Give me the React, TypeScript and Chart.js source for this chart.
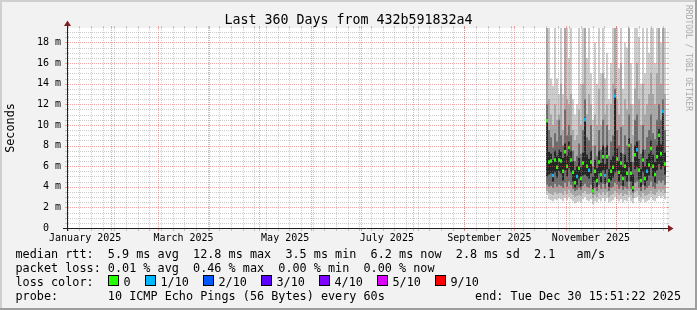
import React, { useEffect, useRef } from 'react';
import { Chart, registerables } from 'chart.js';

Chart.register(...registerables);

const FONT = '"DejaVu Sans Mono", monospace';

// ---- data (values in milliseconds) ----
// x positions are day-of-year 2025 (Jan 1 = 0); samples are evenly spaced
const sampleStartDay = 292.6;
const sampleStepDays = 1.2;

const medianMs = [10.4, 6.4, 6.5, 5.1, 6.6, 5.9, 6.6, 6.5, 5.5, 7.4, 6.0, 7.8, 6.6, 5.4, 4.4, 5.0, 5.8, 4.8, 6.3, 10.5, 6.0, 5.6, 6.4, 3.6, 5.5, 4.6, 6.4, 5.2, 6.9, 5.1, 6.9, 4.6, 5.5, 5.9, 12.8, 6.7, 5.4, 6.3, 4.8, 6.0, 5.3, 8.0, 5.3, 3.9, 7.1, 7.6, 5.6, 4.6, 6.6, 4.8, 5.5, 6.1, 7.7, 6.0, 5.2, 6.9, 9.0, 7.2, 11.3, 6.2];
const lossCount = [0, 0, 0, 1, 0, 0, 0, 0, 0, 0, 0, 0, 0, 0, 0, 1, 0, 0, 0, 1, 0, 1, 0, 0, 0, 0, 0, 0, 0, 1, 0, 0, 0, 0, 1, 0, 0, 0, 0, 0, 0, 0, 0, 0, 0, 1, 0, 0, 0, 0, 1, 0, 0, 0, 0, 0, 0, 0, 1, 0];

const smokeOuterLow = [3.2, 2.8, 2.7, 2.6, 2.8, 2.7, 2.9, 2.8, 2.6, 2.9, 2.7, 3.0, 2.8, 2.6, 2.4, 2.5, 2.6, 2.5, 2.8, 3.0, 2.7, 2.6, 2.8, 2.3, 2.6, 2.5, 2.8, 2.6, 2.9, 2.6, 2.9, 2.5, 2.6, 2.7, 3.0, 2.8, 2.6, 2.8, 2.5, 2.7, 2.6, 3.0, 2.6, 2.4, 2.9, 3.0, 2.6, 2.5, 2.8, 2.5, 2.6, 2.7, 3.0, 2.7, 2.6, 2.9, 3.1, 2.9, 3.1, 2.8];
const smokeOuterHigh = [20, 20, 14.5, 13.8, 20, 14.5, 13.0, 20, 13.0, 20, 20, 16.5, 20, 12.5, 11.0, 12.0, 20, 14.0, 20, 20, 16.5, 20, 15.0, 10.5, 18.0, 14.0, 20, 15.0, 20, 14.5, 17.0, 12.5, 16.0, 20, 20, 20, 15.5, 20, 13.5, 18.0, 17.5, 20, 16.0, 12.0, 20, 20, 18.5, 14.0, 20, 15.0, 20, 17.0, 20, 20, 16.0, 20, 20, 18.0, 20, 20];
const smokeMidLow = [3.6, 3.4, 3.3, 3.2, 3.5, 3.3, 3.4, 3.4, 3.2, 3.6, 3.3, 3.7, 3.4, 3.2, 3.0, 3.1, 3.2, 3.1, 3.4, 3.6, 3.3, 3.3, 3.4, 2.9, 3.2, 3.0, 3.4, 3.2, 3.5, 3.2, 3.5, 3.0, 3.2, 3.3, 3.6, 3.4, 3.2, 3.4, 3.1, 3.3, 3.2, 3.6, 3.2, 2.9, 3.5, 3.6, 3.2, 3.0, 3.4, 3.1, 3.2, 3.3, 3.6, 3.3, 3.2, 3.5, 3.7, 3.5, 3.7, 3.4];
const smokeMidHigh = [20, 12.5, 11.0, 10.0, 12.0, 10.5, 11.0, 14.0, 9.5, 20, 12.5, 12.0, 13.0, 9.5, 8.5, 9.0, 11.5, 10.0, 14.0, 20, 11.0, 13.0, 12.0, 8.0, 11.0, 10.0, 13.5, 10.0, 15.0, 11.0, 12.0, 9.5, 12.0, 14.0, 20, 12.5, 11.0, 16.0, 10.0, 12.5, 11.5, 20, 12.0, 9.0, 13.5, 16.0, 12.5, 10.0, 14.0, 11.0, 12.0, 13.0, 15.0, 13.0, 12.0, 15.0, 20, 14.0, 20, 13.0];
const smokeDarkLow = [4.2, 4.0, 4.1, 3.9, 4.3, 4.0, 4.2, 4.1, 3.9, 4.4, 4.0, 4.5, 4.2, 3.8, 3.6, 3.7, 3.9, 3.7, 4.1, 4.3, 4.0, 3.9, 4.2, 3.3, 3.9, 3.6, 4.2, 3.8, 4.3, 3.8, 4.4, 3.6, 3.9, 4.0, 4.4, 4.2, 3.8, 4.1, 3.7, 4.0, 3.8, 4.5, 3.8, 3.4, 4.4, 4.5, 3.9, 3.6, 4.2, 3.7, 3.9, 4.1, 4.5, 4.0, 3.8, 4.3, 4.6, 4.4, 4.6, 4.2];
const smokeDarkHigh = [12.0, 9.5, 8.8, 7.8, 9.2, 8.4, 10.5, 9.0, 8.0, 11.5, 9.0, 10.0, 9.0, 7.5, 6.5, 7.0, 8.2, 7.2, 9.5, 12.5, 8.8, 8.5, 10.0, 6.0, 8.0, 7.0, 9.5, 7.6, 10.5, 7.8, 10.0, 7.0, 8.4, 9.0, 13.5, 9.5, 8.0, 9.8, 7.2, 9.0, 8.0, 11.0, 8.2, 6.4, 10.5, 11.0, 8.5, 7.2, 10.0, 7.6, 8.8, 9.5, 11.0, 9.2, 8.6, 10.5, 12.0, 10.5, 12.5, 9.5];
const smokeCoreLow = [5.0, 5.2, 5.3, 4.5, 5.4, 4.9, 5.5, 5.3, 4.6, 5.6, 5.0, 5.8, 5.4, 4.5, 3.9, 4.2, 4.8, 4.0, 5.1, 5.2, 5.0, 4.8, 5.3, 3.4, 4.6, 4.0, 5.3, 4.4, 5.6, 4.3, 5.7, 4.0, 4.6, 4.9, 5.4, 5.5, 4.5, 5.2, 4.1, 5.0, 4.5, 5.9, 4.5, 3.6, 5.7, 5.9, 4.7, 4.0, 5.4, 4.1, 4.6, 5.1, 5.9, 5.0, 4.4, 5.6, 6.2, 5.7, 6.0, 5.2];
const smokeCoreHigh = [10.6, 7.4, 7.2, 6.6, 7.5, 7.0, 7.6, 7.4, 6.8, 8.2, 7.0, 8.4, 7.5, 6.5, 5.6, 6.0, 6.8, 5.9, 7.3, 10.7, 7.1, 6.7, 7.5, 5.0, 6.6, 5.8, 7.5, 6.3, 8.0, 6.2, 8.0, 5.7, 6.6, 7.0, 13.0, 7.7, 6.5, 7.3, 5.9, 7.1, 6.4, 8.7, 6.4, 5.2, 8.0, 8.4, 6.7, 5.7, 7.6, 6.0, 6.7, 7.2, 8.5, 7.1, 6.4, 8.0, 9.6, 8.1, 11.5, 7.3];

// ---- axes ----
const xMinDay = 4.6;
const xMaxDay = 364.6;
const monthStartDays = [31, 59, 90, 120, 151, 181, 212, 243, 273, 304, 334];
const monthLabels = ['January 2025', 'March 2025', 'May 2025', 'July 2025', 'September 2025', 'November 2025'];
const monthLabelDays = [15.5, 74.5, 135.5, 196.5, 258, 319];
const firstMondayDay = 5;

const yMax = 19.4;
const yMajorTicks = [0, 2, 4, 6, 8, 10, 12, 14, 16, 18];
const yTickLabels = ['0  ', '2 m', '4 m', '6 m', '8 m', '10 m', '12 m', '14 m', '16 m', '18 m'];
const yMinorStep = 0.5;

// ---- texts ----
const titleText = 'Last 360 Days from 432b591832a4';
const yAxisTitle = 'Seconds';
const legendLine1 = 'median rtt:  5.9 ms avg  12.8 ms max  3.5 ms min  6.2 ms now  2.8 ms sd  2.1   am/s';
const legendLine2 = 'packet loss: 0.01 % avg  0.46 % max  0.00 % min  0.00 % now';
const legendLine3 = 'loss color:';
const legendLine4 = 'probe:       10 ICMP Echo Pings (56 Bytes) every 60s';
const endText = 'end: Tue Dec 30 15:51:22 2025';
const watermark = 'RRDTOOL / TOBI OETIKER';
const lossLabels = ['0', '1/10', '2/10', '3/10', '4/10', '5/10', '9/10'];
const lossColors = ['#26ff00', '#00b8ff', '#0059ff', '#5e00ff', '#7e00ff', '#dd00ff', '#ff0000'];

const GRID_MINOR = 'rgba(143,143,143,0.45)';
const GRID_MAJOR = 'rgba(222,79,79,0.5)';
const MEDIAN_HALF = 0.17;

const xs = medianMs.map((_, i) => sampleStartDay + i * sampleStepDays);
const band = (lo: number[], hi: number[]) => xs.map((x, i) => ({ x, y: [lo[i], hi[i]] }));

const weekDays: number[] = [];
for (let d = firstMondayDay; d < xMaxDay; d += 7) weekDays.push(d);

const yMinorVals: number[] = [];
for (let v = yMinorStep; v <= yMax; v += yMinorStep) if (!yMajorTicks.includes(v)) yMinorVals.push(v);

const xTickObjs = monthLabelDays.map((v, i) => ({ value: v, lbl: monthLabels[i] }));

const gridPlugin = {
  id: 'rrdGrid',
  afterDatasetsDraw(chart: any) {
    const { ctx, chartArea: a, scales } = chart;
    const xs_ = scales.x;
    const ys_ = scales.y;
    const L = Math.round(a.left);
    const R = Math.round(a.right);
    const T = Math.round(a.top);
    const B = Math.round(a.bottom);
    ctx.save();
    const hline = (v: number, color: string) => {
      const py = Math.round(ys_.getPixelForValue(v));
      if (py <= T - 1 || py >= B) return;
      ctx.fillStyle = color;
      for (let px = L + 1; px < R; px += 2) ctx.fillRect(px, py, 1, 1);
      ctx.fillRect(L - 2, py, 2, 1);
      ctx.fillRect(R, py, 2, 1);
    };
    const vline = (d: number, color: string) => {
      const px = Math.round(xs_.getPixelForValue(d));
      if (px <= L || px >= R) return;
      ctx.fillStyle = color;
      for (let py = T; py < B; py += 2) ctx.fillRect(px, py, 1, 1);
      ctx.fillRect(px, B + 1, 1, 2);
      ctx.fillRect(px, T - 2, 1, 2);
    };
    yMinorVals.forEach((v) => hline(v, GRID_MINOR));
    weekDays.forEach((d) => vline(d, GRID_MINOR));
    yMajorTicks.forEach((v) => hline(v, GRID_MAJOR));
    monthStartDays.forEach((d) => vline(d, GRID_MAJOR));
    ctx.restore();
  },
};

const framePlugin = {
  id: 'rrdFrame',
  beforeDraw(chart: any) {
    const { ctx, chartArea: a, width, height } = chart;
    ctx.save();
    ctx.fillStyle = '#f2f2f2';
    ctx.fillRect(0, 0, width, height);
    ctx.fillStyle = '#cfcfcf';
    ctx.fillRect(0, 0, width, 2);
    ctx.fillRect(0, 0, 2, height);
    ctx.fillStyle = '#9e9e9e';
    ctx.fillRect(0, height - 2, width, 2);
    ctx.fillRect(width - 2, 0, 2, height);
    ctx.fillStyle = '#ffffff';
    ctx.fillRect(a.left, a.top, a.right - a.left, a.bottom - a.top);
    ctx.restore();
  },
  afterDraw(chart: any) {
    const { ctx, chartArea: a } = chart;
    ctx.save();
    // axes
    ctx.strokeStyle = '#1f1f1f';
    ctx.lineWidth = 1;
    ctx.beginPath();
    ctx.moveTo(a.left - 4, a.bottom + 0.5);
    ctx.lineTo(a.right + 3, a.bottom + 0.5);
    ctx.moveTo(a.left + 0.5, a.bottom + 3);
    ctx.lineTo(a.left + 0.5, a.top - 3);
    ctx.stroke();
    ctx.fillStyle = '#801f1f';
    ctx.beginPath();
    ctx.moveTo(a.right + 1, a.bottom - 3);
    ctx.lineTo(a.right + 6.5, a.bottom + 0.5);
    ctx.lineTo(a.right + 1, a.bottom + 4);
    ctx.closePath();
    ctx.fill();
    ctx.beginPath();
    ctx.moveTo(a.left - 3, a.top - 2);
    ctx.lineTo(a.left + 0.5, a.top - 7.5);
    ctx.lineTo(a.left + 4, a.top - 2);
    ctx.closePath();
    ctx.fill();

    // title
    ctx.fillStyle = '#000';
    ctx.font = `13.3px ${FONT}`;
    ctx.textAlign = 'center';
    ctx.textBaseline = 'alphabetic';
    ctx.fillText(titleText, 348.5, 24);

    // y axis title
    ctx.save();
    ctx.font = `11.8px ${FONT}`;
    ctx.translate(13.5, (a.top + a.bottom) / 2);
    ctx.rotate(-Math.PI / 2);
    ctx.textAlign = 'center';
    ctx.fillText(yAxisTitle, 0, 0);
    ctx.restore();

    // watermark
    ctx.save();
    ctx.font = `8px ${FONT}`;
    ctx.fillStyle = '#a9a9a9';
    ctx.translate(688.5, 5);
    ctx.rotate(Math.PI / 2);
    ctx.textAlign = 'left';
    ctx.textBaseline = 'middle';
    ctx.fillText(watermark, 0, 0);
    ctx.restore();

    // legend
    ctx.font = `11.8px ${FONT}`;
    ctx.textAlign = 'left';
    ctx.textBaseline = 'alphabetic';
    ctx.fillStyle = '#000';
    const lx = 15.5;
    ctx.fillText(legendLine1, lx, 258);
    ctx.fillText(legendLine2, lx, 272);
    ctx.fillText(legendLine3, lx, 286);
    ctx.fillText(legendLine4, lx, 300);
    const boxX = [108.5, 145.5, 203.5, 261.5, 319.5, 377.5, 435.5];
    lossLabels.forEach((lab, i) => {
      ctx.fillStyle = lossColors[i];
      ctx.fillRect(boxX[i], 275.5, 10, 10);
      ctx.strokeStyle = '#000';
      ctx.strokeRect(boxX[i], 275.5, 10, 10);
      ctx.fillStyle = '#000';
      ctx.fillText(lab, boxX[i] + 15, 286);
    });
    ctx.textAlign = 'right';
    ctx.fillText(endText, 681, 300);
    ctx.restore();
  },
};

export default function App() {
  const ref = useRef<HTMLCanvasElement>(null);
  useEffect(() => {
    const barCommon = {
      grouped: false,
      barThickness: 2,
      borderWidth: 0,
      inflateAmount: 0,
    };
    const chart = new Chart(ref.current as HTMLCanvasElement, {
      type: 'bar',
      data: {
        datasets: [
          { ...barCommon, label: 'smoke outer', data: band(smokeOuterLow, smokeOuterHigh), backgroundColor: '#cccccc', order: 5 },
          { ...barCommon, label: 'smoke mid', data: band(smokeMidLow, smokeMidHigh), backgroundColor: '#a8a8a8', order: 4 },
          { ...barCommon, label: 'smoke dark', data: band(smokeDarkLow, smokeDarkHigh), backgroundColor: '#6c6c6c', order: 3 },
          { ...barCommon, label: 'smoke core', data: band(smokeCoreLow, smokeCoreHigh), backgroundColor: '#262626', order: 2 },
          {
            ...barCommon,
            label: 'median',
            data: xs.map((x, i) => ({ x, y: [medianMs[i] - MEDIAN_HALF, medianMs[i] + MEDIAN_HALF] })),
            backgroundColor: lossCount.map((l) => lossColors[l]),
            order: 1,
          },
        ] as any,
      },
      options: {
        animation: false,
        responsive: false,
        devicePixelRatio: 1,
        events: [],
        layout: { padding: { top: 28, right: 30, left: 0, bottom: 0 } },
        plugins: { legend: { display: false }, tooltip: { enabled: false } },
        scales: {
          x: {
            type: 'linear',
            min: xMinDay,
            max: xMaxDay,
            offset: false,
            afterBuildTicks: (s: any) => {
              s.ticks = xTickObjs.map((t) => ({ ...t }));
            },
            afterFit: (s: any) => {
              s.height = 82;
            },
            grid: { display: false, drawTicks: false, offset: false },
            border: { display: false },
            ticks: {
              autoSkip: false,
              maxRotation: 0,
              minRotation: 0,
              padding: 4,
              color: '#000',
              font: { family: FONT, size: 10 },
              callback: (_v: any, i: number, ticks: any[]) => (ticks[i] && ticks[i].lbl) || '',
            },
          },
          y: {
            type: 'linear',
            min: 0,
            max: yMax,
            afterBuildTicks: (s: any) => {
              s.ticks = yMajorTicks.map((v) => ({ value: v }));
            },
            afterFit: (s: any) => {
              s.width = 67;
            },
            grid: { display: false, drawTicks: false },
            border: { display: false },
            ticks: {
              autoSkip: false,
              padding: 6,
              color: '#000',
              font: { family: FONT, size: 10 },
              callback: (v: any) => {
                const idx = yMajorTicks.indexOf(v);
                return idx >= 0 ? yTickLabels[idx] : '';
              },
            },
          },
        },
      } as any,
      plugins: [framePlugin, gridPlugin],
    });
    return () => chart.destroy();
  }, []);
  return (
    <div style={{ position: 'fixed', left: 0, top: 0, width: 697, height: 310 }}>
      <canvas ref={ref} width={697} height={310} style={{ display: 'block', width: 697, height: 310 }} />
    </div>
  );
}
